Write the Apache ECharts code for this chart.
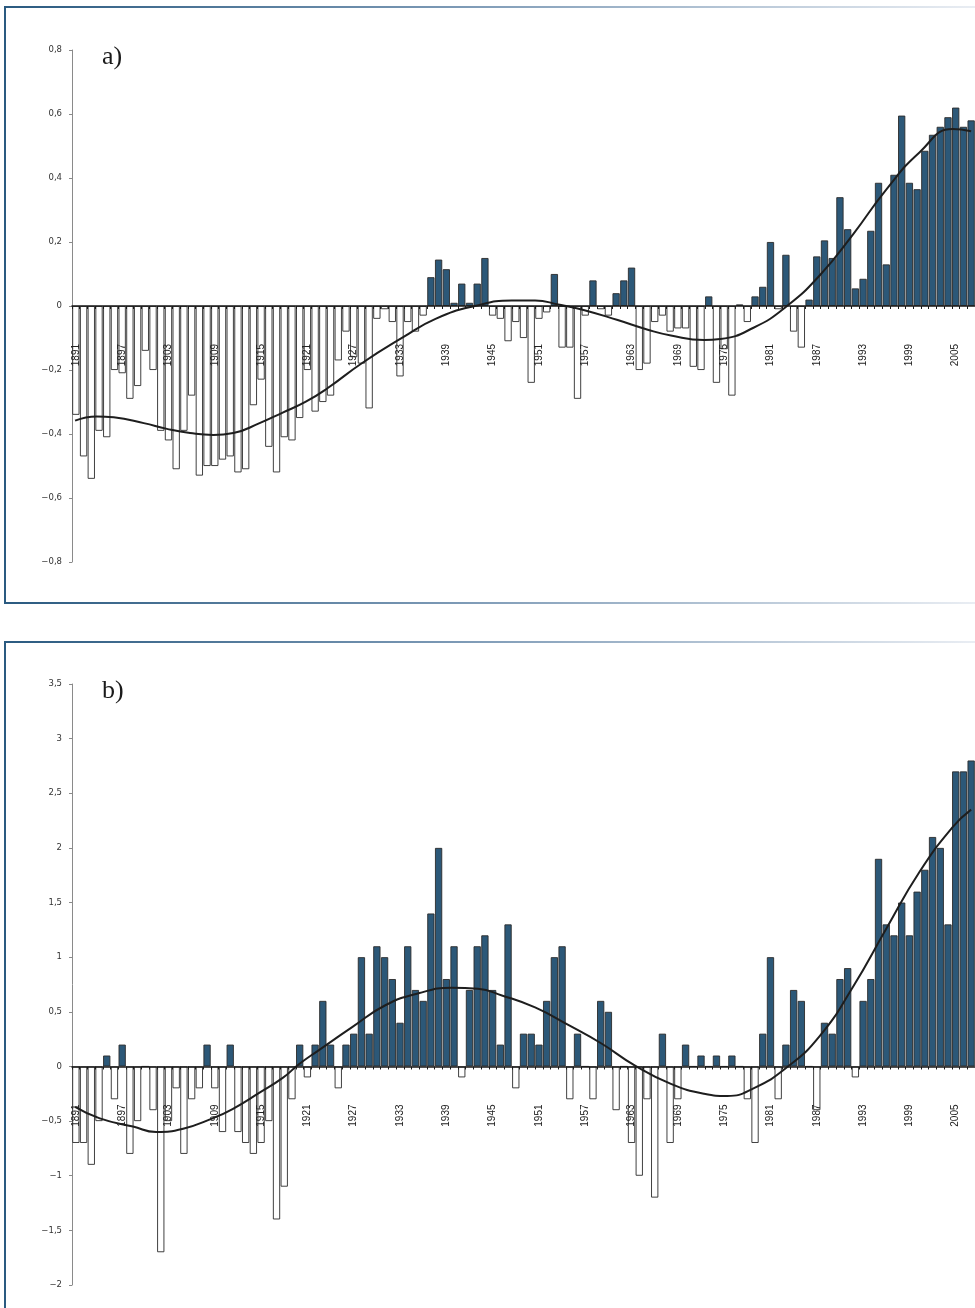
<!DOCTYPE html>
<html>
<head>
<meta charset="utf-8">
<script src="https://cdn.jsdelivr.net/npm/echarts@6/dist/echarts.min.js"></script>
<style>
html,body{margin:0;padding:0;background:#fff;}
#chart{width:975px;height:1308px;}
</style>
</head>
<body>
<div id="chart"></div>
<script>
// ---- categories ----
const firstYear = 1891;
const lastYear = 2007;
const years = [];
for (let y = firstYear; y <= lastYear; y++) years.push(String(y));

// ---- panel a) annual values 1891..2007 ----
const valuesA = [
  -0.34,-0.47,-0.54,-0.39,-0.41,-0.20,-0.21,-0.29,-0.25,-0.14, // 1891-1900
  -0.20,-0.39,-0.42,-0.51,-0.39,-0.28,-0.53,-0.50,-0.50,-0.48, // 1901-1910
  -0.47,-0.52,-0.51,-0.31,-0.23,-0.44,-0.52,-0.41,-0.42,-0.35, // 1911-1920
  -0.20,-0.33,-0.30,-0.28,-0.17,-0.08,-0.16,-0.18,-0.32,-0.04, // 1921-1930
  -0.01,-0.05,-0.22,-0.05,-0.08,-0.03,0.09,0.145,0.115,0.01,   // 1931-1940
  0.07,0.01,0.07,0.15,-0.03,-0.04,-0.11,-0.05,-0.10,-0.24,     // 1941-1950
  -0.04,-0.02,0.10,-0.13,-0.13,-0.29,-0.03,0.08,-0.01,-0.03,   // 1951-1960
  0.04,0.08,0.12,-0.20,-0.18,-0.05,-0.03,-0.08,-0.07,-0.07,    // 1961-1970
  -0.19,-0.20,0.03,-0.24,-0.135,-0.28,0.005,-0.05,0.03,0.06,   // 1971-1980
  0.20,-0.01,0.16,-0.08,-0.13,0.02,0.155,0.205,0.15,0.34,      // 1981-1990
  0.24,0.055,0.085,0.235,0.385,0.13,0.41,0.595,0.385,0.365,    // 1991-2000
  0.485,0.535,0.56,0.59,0.62,0.56,0.58                         // 2001-2007
];
// smoothed curve a) : [position (year), value]
const trendA = [
  [1891.4,-0.358],[1894.2,-0.345],[1896.4,-0.348],[1900.3,-0.366],[1903.3,-0.384],
  [1906.3,-0.397],[1909.3,-0.403],[1911.9,-0.397],[1915.3,-0.366],[1918.3,-0.333],
  [1921.3,-0.299],[1924.1,-0.257],[1928.6,-0.178],[1933.8,-0.099],[1938.1,-0.040],
  [1943.2,0.000],[1948.0,0.017],[1951.0,0.017],[1954.0,0.005],[1957.4,-0.013],
  [1961.7,-0.044],[1965.6,-0.074],[1968.6,-0.092],[1972.9,-0.106],[1975.0,-0.103],
  [1979.3,-0.068],[1983.6,-0.001],[1987.9,0.096],[1992.2,0.224],[1996.5,0.364],
  [2000.8,0.480],[2005.1,0.553],[2007.5,0.546]
];

// ---- panel b) annual values 1891..2007 ----
const valuesB = [
  -0.7,-0.7,-0.9,-0.5,0.1,-0.3,0.2,-0.8,-0.5,0,      // 1891-1900
  -0.4,-1.7,-0.5,-0.2,-0.8,-0.3,-0.2,0.2,-0.2,-0.6,  // 1901-1910
  0.2,-0.6,-0.7,-0.8,-0.7,-0.5,-1.4,-1.1,-0.3,0.2,   // 1911-1920
  -0.1,0.2,0.6,0.2,-0.2,0.2,0.3,1.0,0.3,1.1,         // 1921-1930
  1.0,0.8,0.4,1.1,0.7,0.6,1.4,2.0,0.8,1.1,           // 1931-1940
  -0.1,0.7,1.1,1.2,0.7,0.2,1.3,-0.2,0.3,0.3,         // 1941-1950
  0.2,0.6,1.0,1.1,-0.3,0.3,0,-0.3,0.6,0.5,           // 1951-1960
  -0.4,0,-0.7,-1.0,-0.3,-1.2,0.3,-0.7,-0.3,0.2,      // 1961-1970
  0,0.1,0,0.1,0,0.1,0,-0.3,-0.7,0.3,                 // 1971-1980
  1.0,-0.3,0.2,0.7,0.6,0,-0.4,0.4,0.3,0.8,           // 1981-1990
  0.9,-0.1,0.6,0.8,1.9,1.3,1.2,1.5,1.2,1.6,          // 1991-2000
  1.8,2.1,2.0,1.3,2.7,2.7,2.8                        // 2001-2007
];
const trendB = [
  [1891.4,-0.37],[1894.6,-0.475],[1898.9,-0.55],[1901.9,-0.60],[1905.4,-0.57],
  [1909.2,-0.475],[1911.8,-0.39],[1915.3,-0.24],[1918.3,-0.105],[1920.4,0.02],
  [1923.0,0.15],[1927.3,0.36],[1931.6,0.56],[1935.9,0.67],[1940.2,0.72],
  [1943.6,0.71],[1946.7,0.65],[1951.0,0.54],[1955.3,0.38],[1959.6,0.21],
  [1963.9,0.01],[1968.6,-0.16],[1972.9,-0.25],[1975.9,-0.27],[1979.3,-0.20],
  [1983.6,-0.01],[1987.9,0.28],[1992.2,0.73],[1996.5,1.26],[2000.8,1.78],
  [2005.1,2.19],[2007.5,2.35]
];

// ---- axis settings ----
const yTicksA = {min:-0.8, max:0.8, interval:0.2};
const yTicksB = {min:-2, max:3.5, interval:0.5};
const panelLabels = ['a)', 'b)'];

const BLUE = '#2c5878';
const nCat = years.length;
const catW = 7.75;
const gridW = nCat * catW;

// grid geometry
const gridA = {left:72, top:50, height:512};
const gridB = {left:72, top:684, height:601};

function yFmt(v){
  const r = Math.round(v*10)/10;
  return String(r).replace('.', ',').replace('-', '\u2212');
}
// distance (px) from grid bottom up to the zero line
function zeroOffset(g, t){
  return g.height * (0 - t.min) / (t.max - t.min);
}

function catAxis(gridIndex, g, t){
  const labelGap = 38;
  return {
    type:'category', gridIndex, data: years, z:10,
    axisLine:{onZero:true, lineStyle:{color:'#1a1a1a', width:1.5}},
    axisTick:{show:true, interval:0, length:3, alignWithLabel:false, lineStyle:{color:'#1a1a1a'}},
    axisLabel:{interval:5, rotate:90, margin: labelGap - zeroOffset(g, t),
      fontFamily:'Liberation Sans', fontSize:10, color:'#222', hideOverlap:false},
    splitLine:{show:false}
  };
}
function valXAxis(gridIndex){
  return {type:'value', gridIndex, min:firstYear, max:lastYear+1, show:false};
}
function yAxis(gridIndex, t){
  return {
    type:'value', gridIndex, min:t.min, max:t.max, interval:t.interval,
    axisLine:{show:true, onZero:false, lineStyle:{color:'#8a8a8a', width:1}},
    axisTick:{show:true, length:3, lineStyle:{color:'#8a8a8a'}},
    axisLabel:{formatter:yFmt, fontFamily:'DejaVu Sans', fontSize:8.5, color:'#333', margin:10},
    splitLine:{show:false}
  };
}
function barSeries(idx, data){
  return {
    type:'bar', xAxisIndex: idx*2, yAxisIndex: idx, data,
    barCategoryGap:'6%',
    itemStyle:{
      color: p => (p.value < 0 ? '#ffffff' : BLUE),
      borderColor:'#2b2b2b', borderWidth:0.9
    },
    z:2, animation:false
  };
}
function lineSeries(idx, data){
  return {
    type:'line', xAxisIndex: idx*2+1, yAxisIndex: idx, data,
    smooth:0.5, symbol:'none',
    lineStyle:{color:'#1e1e1e', width:2},
    z:5, animation:false
  };
}

const frameGrad = () => new echarts.graphic.LinearGradient(0,0,1,0,[
  {offset:0, color:'#2a5a80'},
  {offset:0.45, color:'#7d9ab6'},
  {offset:1, color:'#f2f4f8'}
]);

const chart = echarts.init(document.getElementById('chart'), null, {renderer:'canvas'});
chart.setOption({
  backgroundColor:'#ffffff',
  animation:false,
  grid:[
    {left:gridA.left, top:gridA.top, width:gridW, height:gridA.height, containLabel:false},
    {left:gridB.left, top:gridB.top, width:gridW, height:gridB.height, containLabel:false}
  ],
  xAxis:[catAxis(0, gridA, yTicksA), valXAxis(0), catAxis(1, gridB, yTicksB), valXAxis(1)],
  yAxis:[yAxis(0, yTicksA), yAxis(1, yTicksB)],
  series:[
    barSeries(0, valuesA), lineSeries(0, trendA),
    barSeries(1, valuesB), lineSeries(1, trendB)
  ],
  graphic:[
    {type:'rect', shape:{x:5, y:7, width:1010, height:596}, style:{fill:'none', stroke:frameGrad(), lineWidth:2}, z:-1, silent:true},
    {type:'rect', shape:{x:5, y:642, width:1010, height:700}, style:{fill:'none', stroke:frameGrad(), lineWidth:2}, z:-1, silent:true},
    {type:'text', left:102, top:44, style:{text:panelLabels[0], font:'26px "Liberation Serif"', fill:'#1a1a1a'}},
    {type:'text', left:102, top:678, style:{text:panelLabels[1], font:'26px "Liberation Serif"', fill:'#1a1a1a'}}
  ]
});
</script>
</body>
</html>
